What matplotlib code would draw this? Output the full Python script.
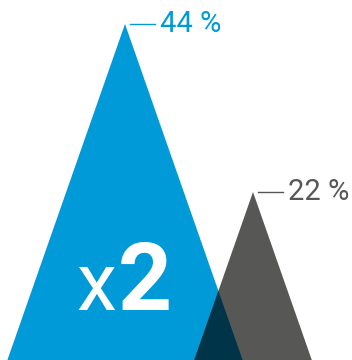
import matplotlib.pyplot as plt
from matplotlib.patches import Polygon

values = [44, 22]
labels = ["44 %", "22 %"]
colors = ["#009ad8", "#575756"]
overlap_color = "#003549"
factor_small = "x"
factor_big = "2"

# layout (pixel units, origin at bottom-left)
centers = [125, 253]
px_per_pct = 336 / 44
half_ratio = 0.35

fig = plt.figure(figsize=(3.52, 3.6), dpi=100)
ax = fig.add_axes([0, 0, 1, 1])
ax.set_xlim(0, 352)
ax.set_ylim(0, 360)
ax.axis("off")

patches = []
for v, c, col, lab in zip(values, centers, colors, labels):
    h = v * px_per_pct
    w = h * half_ratio
    p = Polygon([(c - w, 0), (c, h), (c + w, 0)], closed=True, facecolor=col, edgecolor="none")
    ax.add_patch(p)
    patches.append((p, c, h, w))
    ax.plot([c + 5, c + 30], [h, h], color=col, lw=1)
    ax.text(c + 35, h, lab, color=col, fontsize=21, family="Roboto",
            ha="left", va="center")

# darker overlap: blue triangle redrawn, clipped to the gray one
p0, c0, h0, w0 = patches[0]
p1 = patches[1][0]
ov = Polygon([(c0 - w0, 0), (c0, h0), (c0 + w0, 0)], closed=True, facecolor=overlap_color, edgecolor="none")
ax.add_patch(ov)
ov.set_clip_path(p1)

ax.text(116, 50, factor_small, color="white", fontsize=58, family="Roboto",
        ha="right", va="baseline")
ax.text(118, 50, factor_big, color="white", fontsize=68, family="Roboto", fontweight="bold",
        ha="left", va="baseline")

fig.savefig("out.png", dpi=100)
